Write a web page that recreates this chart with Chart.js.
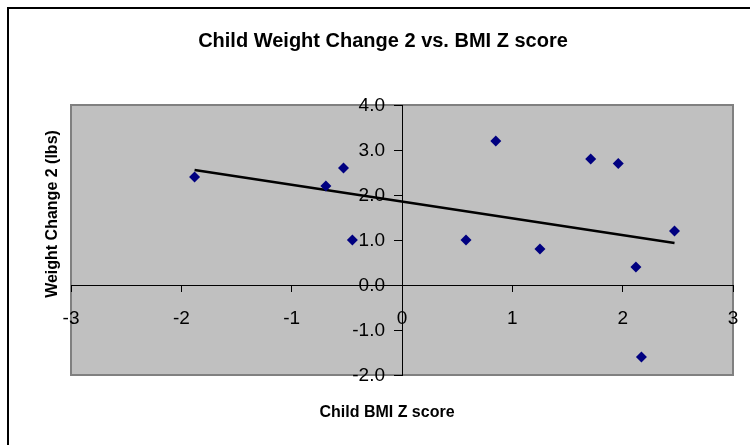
<!DOCTYPE html>
<html>
<head>
<meta charset="utf-8">
<title>Child Weight Change 2 vs. BMI Z score</title>
<script src="https://cdn.jsdelivr.net/npm/chart.js@4/dist/chart.umd.min.js"></script>
<style>
  html, body { margin: 0; padding: 0; background: #fff; }
  #wrap { width: 750px; height: 445px; position: relative; }
</style>
</head>
<body>
<div id="wrap"><canvas id="chart"></canvas></div>
<script>
// ── DATA ──────────────────────────────────────────────────────────────────
var bmiZ    = [-1.88, -0.69, -0.53, -0.45, 0.58, 0.85, 1.25, 1.71, 1.96, 2.12, 2.47, 2.17];
var weight2 = [ 2.4,   2.2,   2.6,   1.0,  1.0,  3.2,  0.8,  2.8,  2.7,  0.4,  1.2, -1.6];
var xTicks  = [-3, -2, -1, 0, 1, 2, 3];
var yTicks  = [-2, -1, 0, 1, 2, 3, 4];

var TITLE   = 'Child Weight Change 2 vs. BMI Z score';
var X_TITLE = 'Child BMI Z score';
var Y_TITLE = 'Weight Change 2 (lbs)';
var FONT    = "'Liberation Sans', Arial, sans-serif";

(function () {
  'use strict';

  // linear trendline (least squares), drawn between the min and max x
  function trend(xs, ys) {
    var n = xs.length, mx = 0, my = 0, sxy = 0, sxx = 0;
    for (var i = 0; i < n; i++) { mx += xs[i]; my += ys[i]; }
    mx /= n; my /= n;
    for (var j = 0; j < n; j++) {
      sxy += (xs[j] - mx) * (ys[j] - my);
      sxx += (xs[j] - mx) * (xs[j] - mx);
    }
    var b = sxy / sxx, a = my - b * mx;
    var lo = Math.min.apply(null, xs), hi = Math.max.apply(null, xs);
    return [{ x: lo, y: a + b * lo }, { x: hi, y: a + b * hi }];
  }

  var points = bmiZ.map(function (x, i) { return { x: x, y: weight2[i] }; });

  // ── FRAME, PLOT AREA AND TEXTS ──────────────────────────────────────────
  // Chart.js puts y labels right on the axis when the axis sits at x = 0,
  // so they are drawn here from the scale's own ticks, left of the axis.
  var decor = {
    id: 'decor',
    beforeDraw: function (chart) {
      var ctx = chart.ctx, a = chart.chartArea;
      ctx.save();
      ctx.strokeStyle = '#000';
      ctx.lineWidth = 2;
      ctx.strokeRect(8, 8, 800, 500);
      ctx.fillStyle = '#c0c0c0';
      ctx.fillRect(a.left, a.top, a.right - a.left, a.bottom - a.top);
      ctx.strokeStyle = '#808080';
      ctx.lineWidth = 2;
      ctx.strokeRect(a.left, a.top, a.right - a.left, a.bottom - a.top);
      ctx.restore();
    },
    afterDraw: function (chart) {
      var ctx = chart.ctx, xs = chart.scales.x, ys = chart.scales.y;
      var x0 = xs.getPixelForValue(0);
      ctx.save();
      ctx.fillStyle = '#000';

      ctx.font = '19px ' + FONT;
      ctx.textAlign = 'right';
      ctx.textBaseline = 'middle';
      ys.ticks.forEach(function (t) {
        ctx.fillText(Number(t.value).toFixed(1), x0 - 17, ys.getPixelForValue(t.value) + 1);
      });

      ctx.textAlign = 'center';
      ctx.textBaseline = 'alphabetic';
      ctx.font = 'bold 20px ' + FONT;
      ctx.fillText(TITLE, 383, 47);
      ctx.font = 'bold 16px ' + FONT;
      ctx.fillText(X_TITLE, 387, 417);
      ctx.translate(57, 214);
      ctx.rotate(-Math.PI / 2);
      ctx.fillText(Y_TITLE, 0, 0);
      ctx.restore();
    }
  };

  new Chart(document.getElementById('chart'), {
    type: 'scatter',
    data: {
      datasets: [{
        label: 'Weight change',
        data: points,
        pointStyle: 'rectRot',
        pointRadius: 5.5,
        pointBorderWidth: 0,
        backgroundColor: '#000080',
        borderColor: '#000080',
        order: 1
      }, {
        label: 'Trend',
        type: 'line',
        data: trend(bmiZ, weight2),
        borderColor: '#000',
        borderWidth: 2.5,
        pointRadius: 0,
        fill: false,
        order: 2
      }]
    },
    options: {
      responsive: true,
      maintainAspectRatio: false,
      animation: false,
      layout: { padding: { left: 71, right: 17, top: 105, bottom: 70 } },
      plugins: {
        legend:  { display: false },
        tooltip: { enabled: false }
      },
      scales: {
        x: {
          type: 'linear',
          position: { y: 0 },
          min: xTicks[0],
          max: xTicks[xTicks.length - 1],
          afterBuildTicks: function (s) { s.ticks = xTicks.map(function (v) { return { value: v }; }); },
          // edge labels may hang over the plot area, don't let them shrink it
          afterFit: function (s) { s.paddingLeft = 0; s.paddingRight = 0; },
          ticks: {
            autoSkip: false, maxRotation: 0, color: '#000',
            font: { family: FONT, size: 19 }, padding: 16,
            callback: function (v) { return String(v); }
          },
          grid:   { drawOnChartArea: false, tickLength: 6, color: '#000' },
          border: { display: true, color: '#000', width: 1 }
        },
        y: {
          type: 'linear',
          position: { x: 0 },
          min: yTicks[0],
          max: yTicks[yTicks.length - 1],
          afterBuildTicks: function (s) { s.ticks = yTicks.map(function (v) { return { value: v }; }); },
          afterFit: function (s) { s.paddingTop = 0; s.paddingBottom = 0; },
          ticks: { display: false },
          grid:   { drawOnChartArea: false, tickLength: 8, color: '#000' },
          border: { display: true, color: '#000', width: 1 }
        }
      }
    },
    plugins: [decor]
  });
}());
</script>
</body>
</html>
